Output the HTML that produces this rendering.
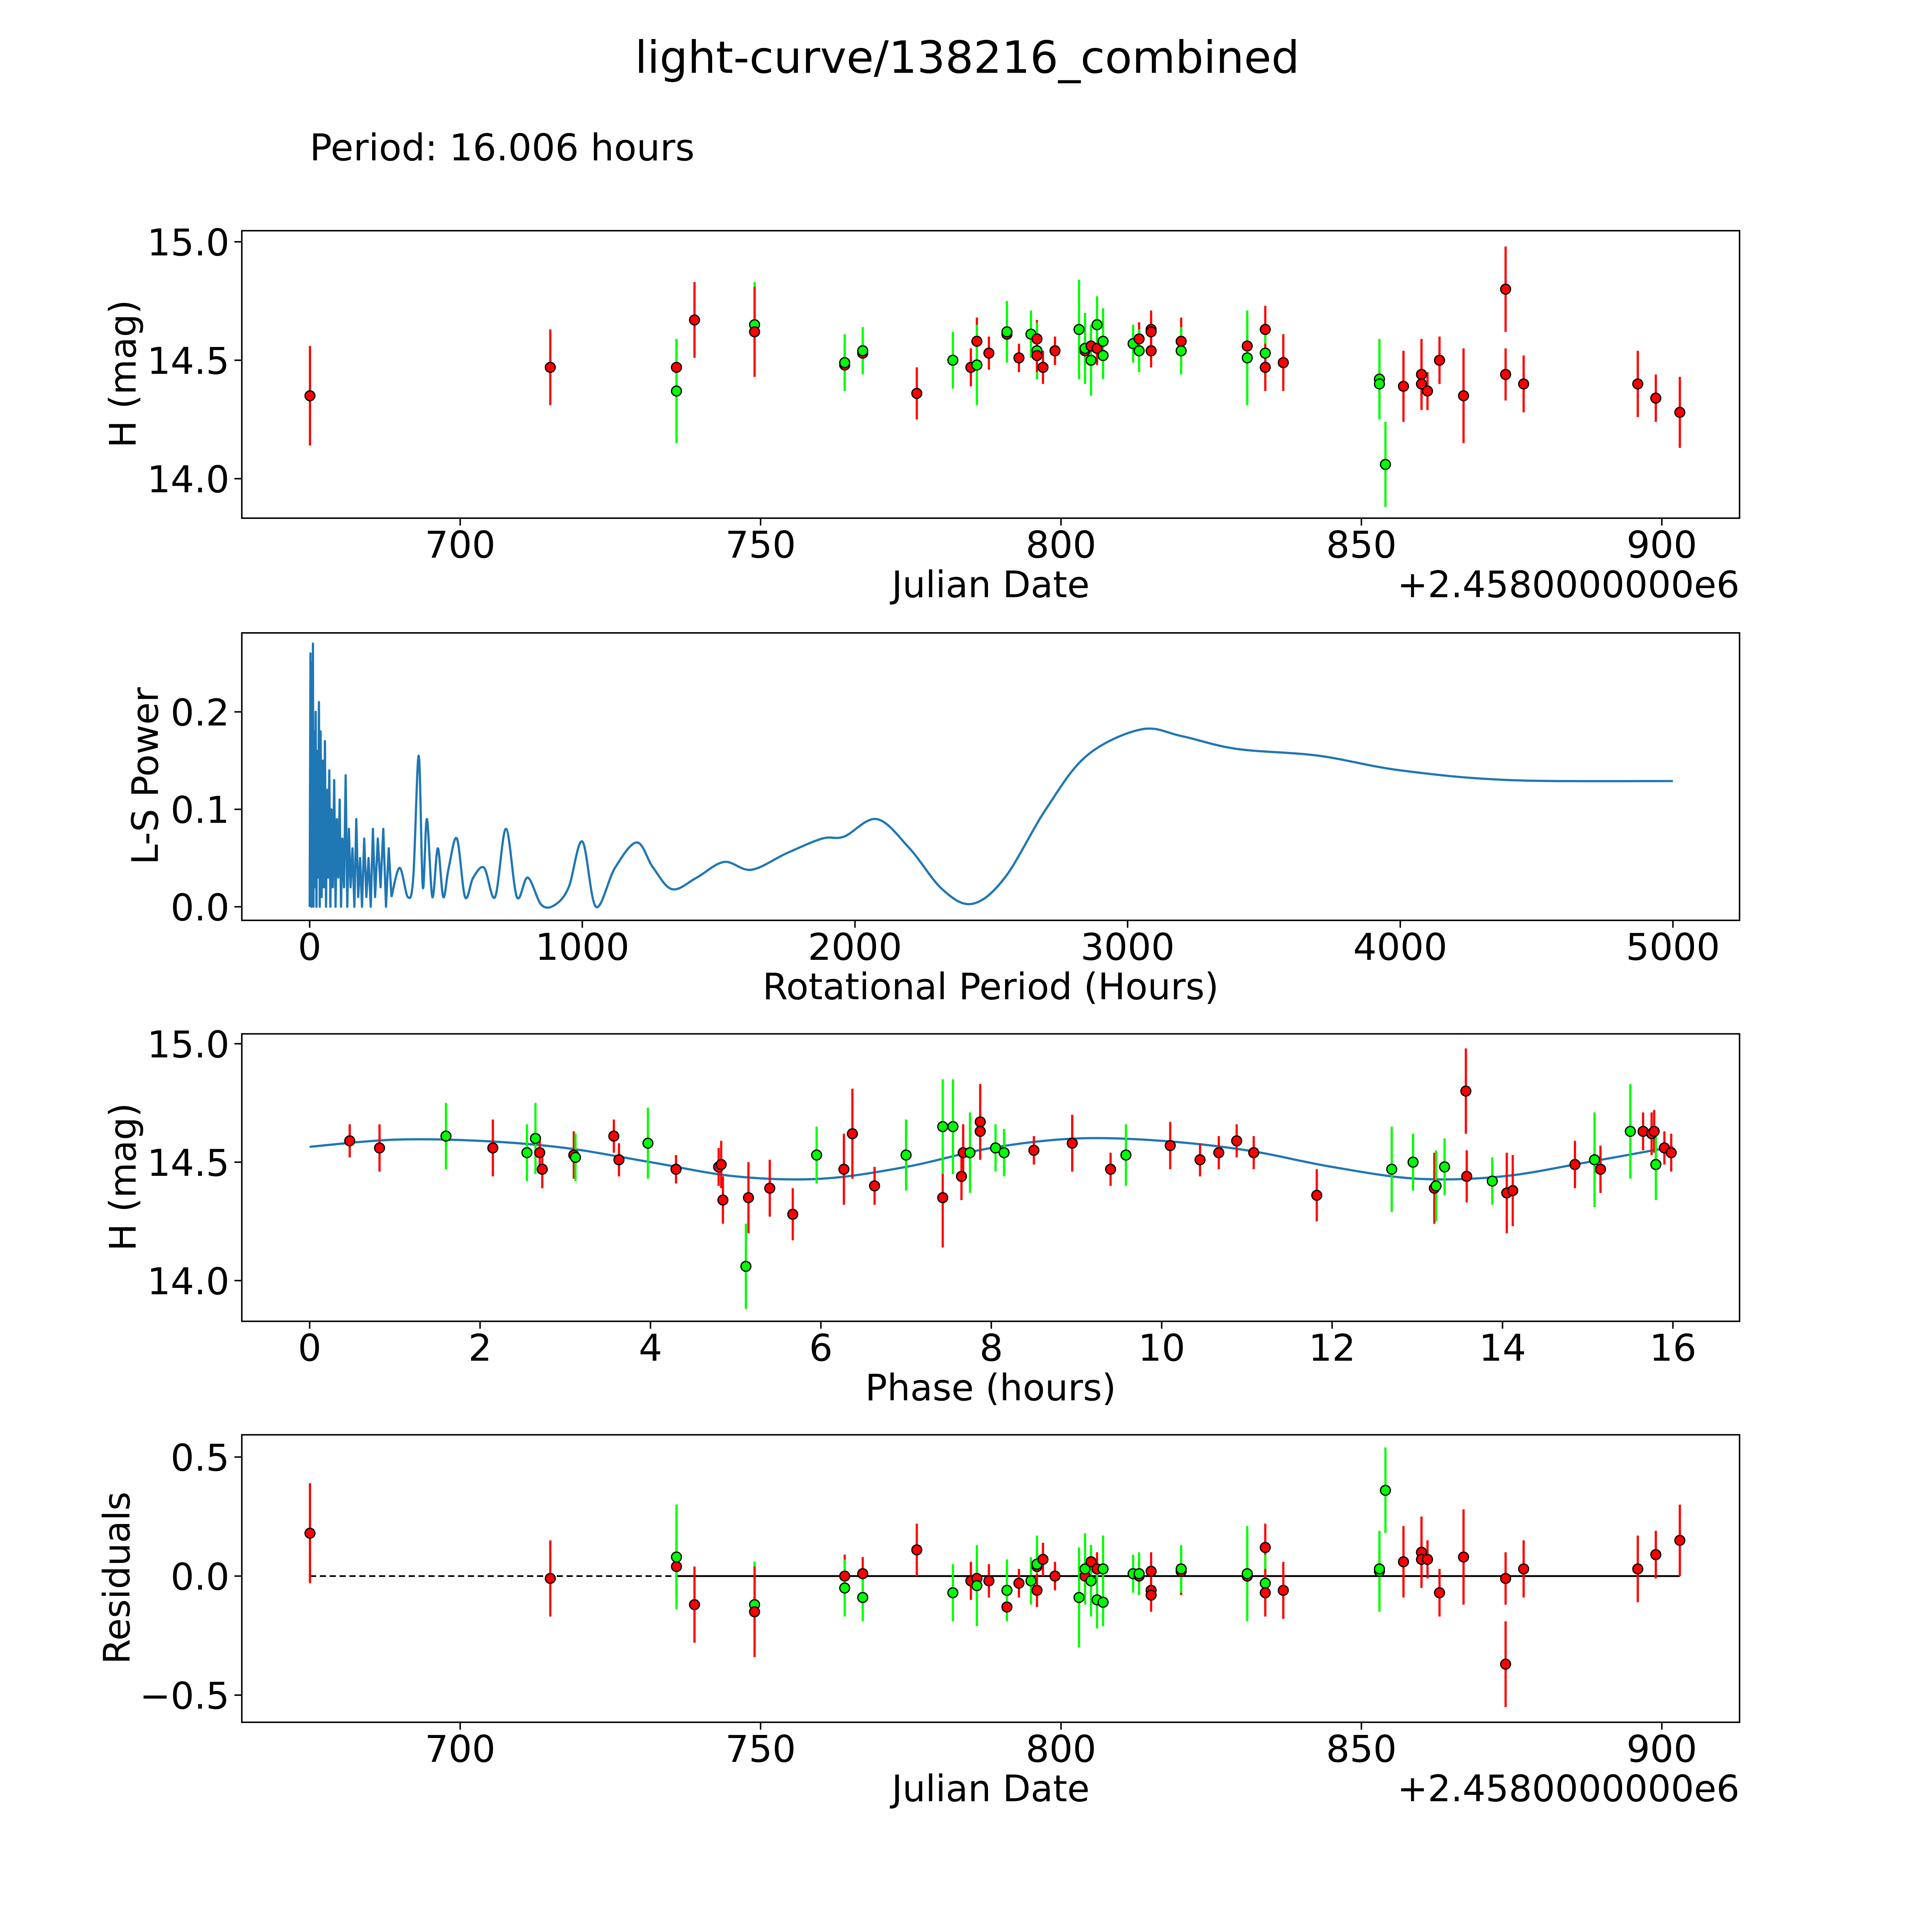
<!DOCTYPE html>
<html><head><meta charset="utf-8"><style>
html,body{margin:0;padding:0;background:#fff;overflow:hidden;width:100%;height:100%}
svg{display:block;width:100vw;height:100vh}
text{font-family:"DejaVu Sans","Liberation Sans",sans-serif;fill:#000}
</style></head><body>
<svg id="fig" viewBox="0 0 1566 1566" preserveAspectRatio="xMinYMin meet" xmlns="http://www.w3.org/2000/svg">
<rect width="1566" height="1566" fill="#fff"/>
<text x="784" y="59" font-size="36" text-anchor="middle">light-curve/138216_combined</text>
<text x="251" y="130" font-size="30">Period: 16.006 hours</text>
<g id="g"></g>
</svg>
<script>
// ---- data: light curve ----
const jd=[675,715,736,736,739,749,749,764,764,767,767,776,782,785,786,786,788,791,791,793,795,796,796,796,797,799,803,804,804,805,805,806,806,807,807,812,813,813,815,815,815,820,820,831,831,834,834,834,837,853,853,854,857,860,860,861,863,867,874,874,877,896,899,903];
const mag=[14.35,14.47,14.47,14.37,14.67,14.65,14.62,14.48,14.49,14.53,14.54,14.36,14.50,14.47,14.58,14.48,14.53,14.61,14.62,14.51,14.61,14.59,14.54,14.52,14.47,14.54,14.63,14.54,14.55,14.56,14.50,14.55,14.65,14.52,14.58,14.57,14.59,14.54,14.63,14.62,14.54,14.58,14.54,14.56,14.51,14.63,14.53,14.47,14.49,14.42,14.40,14.06,14.39,14.44,14.40,14.37,14.50,14.35,14.80,14.44,14.40,14.40,14.34,14.28];
const resid=[0.18,-0.01,0.04,0.08,-0.12,-0.12,-0.15,0.0,-0.05,0.01,-0.09,0.11,-0.07,-0.02,-0.01,-0.04,-0.02,-0.13,-0.06,-0.03,-0.02,0.04,0.05,-0.06,0.07,0.0,-0.09,0.0,0.03,0.06,-0.02,0.03,-0.1,-0.11,0.03,0.01,0.0,0.01,0.02,-0.06,-0.08,0.02,0.03,0.0,0.01,0.12,-0.03,-0.07,-0.06,0.02,0.03,0.36,0.06,0.1,0.07,0.07,-0.07,0.08,-0.37,-0.01,0.03,0.03,0.09,0.15];
const err=[0.21,0.16,0.12,0.22,0.16,0.18,0.19,0.09,0.12,0.07,0.1,0.11,0.12,0.08,0.1,0.17,0.07,0.06,0.13,0.06,0.1,0.08,0.12,0.07,0.07,0.06,0.21,0.08,0.15,0.07,0.15,0.07,0.12,0.1,0.14,0.08,0.07,0.09,0.08,0.07,0.07,0.1,0.1,0.08,0.2,0.1,0.12,0.1,0.12,0.17,0.1,0.18,0.15,0.15,0.1,0.08,0.1,0.2,0.18,0.11,0.12,0.14,0.1,0.15];
const band=[0,0,0,1,0,1,0,0,1,0,1,0,1,0,0,1,0,0,1,0,1,0,1,0,0,0,1,0,1,0,1,0,1,1,1,1,0,1,0,0,0,0,1,0,1,0,1,0,0,1,1,1,0,0,0,0,0,0,0,0,0,0,0,0];
// ---- data: phased ----
const phase=[0.47,0.82,1.6,2.15,2.55,2.65,2.7,2.73,3.1,3.12,3.57,3.63,3.97,4.3,4.8,4.83,4.85,5.12,5.15,5.4,5.67,5.95,6.27,6.37,6.63,7.0,7.43,7.43,7.55,7.65,7.67,7.75,7.87,7.87,8.05,8.15,8.5,8.95,9.4,9.58,10.1,10.45,10.67,10.88,11.08,11.82,12.7,12.95,13.2,13.22,13.32,13.57,13.58,13.88,14.05,14.12,14.85,15.08,15.15,15.5,15.65,15.75,15.78,15.8,15.9,15.98];
const phMag=[14.59,14.56,14.61,14.56,14.54,14.60,14.54,14.47,14.53,14.52,14.61,14.51,14.58,14.47,14.48,14.49,14.34,14.06,14.35,14.39,14.28,14.53,14.47,14.62,14.40,14.53,14.35,14.65,14.65,14.44,14.54,14.54,14.67,14.63,14.56,14.54,14.55,14.58,14.47,14.53,14.57,14.51,14.54,14.59,14.54,14.36,14.47,14.50,14.39,14.40,14.48,14.80,14.44,14.42,14.37,14.38,14.49,14.51,14.47,14.63,14.63,14.62,14.63,14.49,14.56,14.54];
const phErr=[0.07,0.1,0.14,0.12,0.12,0.15,0.07,0.08,0.1,0.1,0.07,0.07,0.15,0.06,0.08,0.1,0.1,0.18,0.15,0.12,0.11,0.12,0.15,0.19,0.08,0.15,0.21,0.2,0.2,0.1,0.12,0.17,0.16,0.08,0.1,0.1,0.06,0.12,0.07,0.13,0.1,0.07,0.07,0.07,0.07,0.11,0.18,0.12,0.15,0.15,0.12,0.18,0.11,0.1,0.17,0.15,0.1,0.2,0.1,0.2,0.08,0.09,0.09,0.15,0.07,0.08];
const phBand=[0,0,1,0,1,1,0,0,0,1,0,0,1,0,0,0,0,1,0,0,0,1,0,0,0,1,0,1,1,0,0,1,0,0,1,1,0,0,0,1,0,0,0,0,0,0,1,1,0,1,1,0,0,1,0,0,0,1,0,1,0,0,0,1,0,0];
const modelPhase=[0,1,2,3,4,5,6,7,8,9,10,11,12,13,14,15,16];
const modelMag=[14.565,14.595,14.59,14.56,14.50,14.44,14.43,14.48,14.56,14.60,14.59,14.55,14.48,14.43,14.44,14.50,14.565];
// ---- data: periodogram (spiky part, drawn straight) ----
const lsPeriodA=[0,3,6,8,10,12,14,16,19,22,25,28,31,34,37,40,44,48,52,56,60,64,68,72,76,80,85,90,95,100,105,110,115,120,126,132,138,144,150,157,164,171,178,185,192,200,208,216,224,232,240,250,260,270,280,290,300];
const lsPowerA=[0,0.26,0,0.25,0.01,0.27,0,0.18,0.02,0.2,0,0.16,0.03,0.21,0,0.18,0.01,0.15,0.02,0.17,0,0.12,0.03,0.14,0,0.1,0.02,0.13,0,0.09,0.03,0.11,0,0.07,0.02,0.135,0,0.08,0.02,0.06,0,0.09,0.01,0.05,0,0.07,0.01,0.05,0,0.08,0.01,0.07,0.02,0.08,0,0.06,0.01];
// ---- periodogram (smooth part) ----
const lsPeriodB=[300,330,360,380,400,415,430,450,470,490,510,540,570,600,640,680,720,760,800,850,900,950,1000,1050,1120,1200,1260,1330,1420,1520,1620,1750,1880,1960,2080,2200,2320,2430,2550,2700,2850,3050,3200,3400,3700,4000,4400,5000];
const lsPowerB=[0.01,0.04,0.01,0.03,0.155,0.02,0.09,0.01,0.06,0.01,0.04,0.07,0.01,0.03,0.04,0.01,0.08,0.01,0.03,0.002,0.002,0.02,0.067,0.0,0.04,0.066,0.04,0.018,0.03,0.046,0.038,0.055,0.07,0.072,0.09,0.06,0.018,0.003,0.03,0.1,0.155,0.182,0.175,0.162,0.155,0.14,0.13,0.129];

const NS='http://www.w3.org/2000/svg';
const G=document.getElementById('g');
function el(tag,attrs,parent){const e=document.createElementNS(NS,tag);for(const k in attrs)e.setAttribute(k,attrs[k]);(parent||G).appendChild(e);return e;}
function lin(d0,d1,p0,p1){return v=>p0+(v-d0)*(p1-p0)/(d1-d0);}
function smooth(P){let d='M'+P[0][0]+','+P[0][1];
 for(let i=0;i<P.length-1;i++){const p0=P[Math.max(0,i-1)],p1=P[i],p2=P[i+1],p3=P[Math.min(P.length-1,i+2)];
  d+=` C${p1[0]+(p2[0]-p0[0])/6},${p1[1]+(p2[1]-p0[1])/6} ${p2[0]-(p3[0]-p1[0])/6},${p2[1]-(p3[1]-p1[1])/6} ${p2[0]},${p2[1]}`;}
 return d;}

function axes(name,top,xs,ys,xt,yt,xfmt,yfmt,xlabel,ylabel,offset){
  const g=el('g',{});
  
  
  const L=196,R=1410,B=top+233;
  xt.forEach(v=>{const x=xs(v);
    const t=el('line',{x1:x,x2:x,y1:B,y2:B+6,stroke:'#000','stroke-width':1.2},g);
    
    const tx=el('text',{x:x,y:B+32,'font-size':30,'text-anchor':'middle'},g);tx.textContent=xfmt(v);
    });
  yt.forEach(v=>{const y=ys(v);
    const t=el('line',{x1:L-6,x2:L,y1:y,y2:y,stroke:'#000','stroke-width':1.2},g);
    
    const tx=el('text',{x:L-10,y:y+11,'font-size':30,'text-anchor':'end'},g);tx.textContent=yfmt(v);
    });
  const xl=el('text',{x:803,y:B+64,'font-size':29.5,'text-anchor':'middle'},g);xl.textContent=xlabel;
  
  const yl=el('text',{x:0,y:0,'font-size':29.5,'text-anchor':'middle',transform:`translate(${ylabel[1]},${top+116}) rotate(-90)`},g);yl.textContent=ylabel[0];
  
  if(offset){const o=el('text',{x:R,y:B+64,'font-size':29.5,'text-anchor':'end'},g);o.textContent=offset;
    }
  return g;
}
function frame(top){const f=el('rect',{x:196,y:top,width:1214,height:233,fill:'none',stroke:'#000','stroke-width':1.2});
  }
function pts(name,xs,ys,X,Y,E,C){
  const g=el('g',{});
  X.forEach((v,i)=>{const col=C[i]?'#00ff00':'#ff0000';
    const b=el('line',{x1:xs(v),x2:xs(v),y1:ys(Y[i]-E[i]),y2:ys(Y[i]+E[i]),stroke:col,'stroke-width':1.8},g);
    });
  X.forEach((v,i)=>{const col=C[i]?'#00ff00':'#ff0000';
    const c=el('circle',{cx:xs(v),cy:ys(Y[i]),r:4,fill:col,stroke:'#000','stroke-width':1},g);
    });
}
const fmt1=v=>v.toFixed(1), fmt0=v=>String(v);
// Panel 1
{const top=187,xs=lin(700,900,373,1347),ys=lin(15,14,196,388);
 axes('light-curve-axes',top,xs,ys,[700,750,800,850,900],[14.0,14.5,15.0],fmt0,fmt1,'Julian Date',['H (mag)',110],'+2.4580000000e6');
 pts('light-curve-points',xs,ys,jd,mag,err,band);frame(top);}
// Panel 2
{const top=513,xs=lin(0,5000,251,1356),ys=lin(0,0.2,735,577);
 axes('periodogram-axes',top,xs,ys,[0,1000,2000,3000,4000,5000],[0,0.1,0.2],fmt0,fmt1,'Rotational Period (Hours)',['L-S Power',128],null);
 const pa=el('polyline',{points:lsPeriodA.map((v,i)=>xs(v)+','+ys(lsPowerA[i])).join(' '),fill:'none',stroke:'#1f77b4','stroke-width':1.8,'stroke-linejoin':'round'});
 
 const pb=el('path',{d:smooth(lsPeriodB.map((v,i)=>[xs(v),ys(lsPowerB[i])])),fill:'none',stroke:'#1f77b4','stroke-width':1.8});
 frame(top);}
// Panel 3
{const top=838,xs=lin(0,16,251,1356),ys=lin(15,14,846,1038);
 axes('phase-axes',top,xs,ys,[0,2,4,6,8,10,12,14,16],[14.0,14.5,15.0],fmt0,fmt1,'Phase (hours)',['H (mag)',110],null);
 const m=el('path',{d:smooth(modelPhase.map((v,i)=>[xs(v),ys(modelMag[i])])),fill:'none',stroke:'#1f77b4','stroke-width':1.8});
 
 pts('phase-points',xs,ys,phase,phMag,phErr,phBand);frame(top);}
// Panel 4
{const top=1163,xs=lin(700,900,373,1347),ys=lin(0.5,-0.5,1181,1374);
 axes('residuals-axes',top,xs,ys,[700,750,800,850,900],[-0.5,0,0.5],fmt0,v=>(v<0?'\u2212':'')+Math.abs(v).toFixed(1),'Julian Date',['Residuals',105],'+2.4580000000e6');
 const dl=el('line',{x1:xs(jd[0]),x2:xs(jd[jd.length-1]),y1:ys(0),y2:ys(0),stroke:'#000','stroke-width':1.3,'stroke-dasharray':'5,3'});
 
 const sl=el('line',{x1:xs(jd[2]),x2:xs(jd[jd.length-1]),y1:ys(0),y2:ys(0),stroke:'#000','stroke-width':1.5});
 
 pts('residual-points',xs,ys,jd,resid,err,band);frame(top);}
</script>
</body></html>
